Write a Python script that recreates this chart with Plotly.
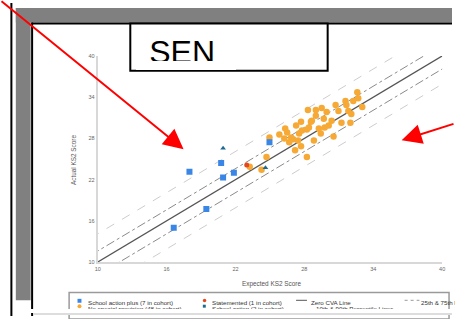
import plotly.graph_objects as go

# ---------------- data ----------------
tick_vals = [10, 16, 22, 28, 34, 40]

sap_x = [17.99, 20.75, 20.92, 21.86, 24.96, 19.46, 16.62]
sap_y = [23.14, 24.43, 22.29, 23.00, 27.43, 17.71, 15.00]

sa_x = [20.92, 24.61]
sa_y = [26.57, 23.71]

st_x = [22.98]
st_y = [24.14]

nsp_x = [24.96, 24.70, 24.27, 23.24, 26.33, 26.50, 26.85, 26.68, 27.02, 27.19,
         27.28, 27.71, 27.79, 27.45, 27.71, 28.22, 28.31, 28.57, 28.22, 29.00,
         29.51, 29.26, 29.43, 29.77, 29.94, 29.00, 30.54, 30.97, 31.23, 31.58,
         31.66, 31.83, 32.01, 32.61, 32.69, 33.04, 32.09, 28.65, 30.37, 28.40,
         26.25, 25.82, 29.69, 30.72, 27.54, 28.83, 30.12, 32.26]
nsp_y = [28.14, 25.29, 23.43, 23.86, 29.43, 28.86, 28.14, 27.43, 27.86, 26.29,
         29.86, 30.43, 29.14, 27.71, 26.86, 25.29, 32.14, 30.43, 29.29, 32.14,
         32.43, 29.43, 28.71, 29.57, 31.86, 31.29, 28.29, 32.00, 30.29, 33.43,
         32.86, 32.00, 30.29, 34.71, 33.86, 32.57, 31.57, 30.57, 30.57, 29.57,
         28.00, 28.57, 30.86, 32.86, 28.71, 27.71, 29.86, 33.43]

line_x = [0, 50]
zero_offset = 0
p75_offset = 1.6
p25_offset = -1.9
p90_offset = 4.1
p10_offset = -4.1

legend_labels = ["School action plus (7 in cohort)", "No special provision (48 in cohort)",
                 "Statemented (1 in cohort)", "School action (2 in cohort)",
                 "Zero CVA Line", "10th & 90th Percentile Lines", "25th & 75th Percentile Lines"]

W, H = 455, 319
def px(x): return x / W
def py(y): return 1 - y / H

BLUE = "#3a86e6"
ORANGE = "#f6a935"
RED = "#e4461f"
TEAL = "#1c6b92"
FONT = "Liberation Sans, Arial"

fig = go.Figure()

def add_line(off, color, dash, width):
    fig.add_trace(go.Scatter(x=line_x, y=[v + off for v in line_x], mode="lines",
                             line=dict(color=color, dash=dash, width=width),
                             hoverinfo="skip", showlegend=False))

add_line(p90_offset, "#cccccc", "dash", 1)
add_line(p10_offset, "#cccccc", "dash", 1)
add_line(p75_offset, "#8a8a8a", "dashdot", 1)
add_line(p25_offset, "#8a8a8a", "dashdot", 1)
add_line(zero_offset, "#555555", "solid", 1.3)

fig.add_trace(go.Scatter(x=nsp_x, y=nsp_y, mode="markers",
                         marker=dict(symbol="circle", size=6.5, color=ORANGE), showlegend=False))
fig.add_trace(go.Scatter(x=sap_x, y=sap_y, mode="markers",
                         marker=dict(symbol="square", size=6, color=BLUE), showlegend=False))
fig.add_trace(go.Scatter(x=st_x, y=st_y, mode="markers",
                         marker=dict(symbol="circle", size=5, color=RED), showlegend=False))
fig.add_trace(go.Scatter(x=sa_x, y=sa_y, mode="markers",
                         marker=dict(symbol="triangle-up", size=5, color=TEAL), showlegend=False))

# "SEN" text in its own small subplot
fig.add_trace(go.Scatter(x=[181.5], y=[52.5], mode="text", text=["SEN"],
                         textposition="middle center", cliponaxis=True,
                         textfont=dict(family=FONT, size=32, color="#000000"),
                         xaxis="x2", yaxis="y2", hoverinfo="skip", showlegend=False))

axis_common = dict(showgrid=False, zeroline=False, showline=True, linecolor="#d8d8d8",
                   linewidth=2, ticks="", tickvals=tick_vals, range=[10, 40],
                   tickfont=dict(family=FONT, size=5.5, color="#666666"))

shapes = []
def rect(x0, y0, x1, y1, fill, line_color=None, lw=0):
    shapes.append(dict(type="rect", xref="paper", yref="paper", layer="below",
                       x0=px(x0), x1=px(x1), y0=py(y1), y1=py(y0),
                       fillcolor=fill, line=dict(color=line_color or fill, width=lw)))
def line(x0, y0, x1, y1, color, lw, dash="solid"):
    shapes.append(dict(type="line", xref="paper", yref="paper", layer="below",
                       x0=px(x0), x1=px(x1), y0=py(y0), y1=py(y1),
                       line=dict(color=color, width=lw, dash=dash)))

# slide frame
line(8.5, 0, 8.5, 319, "#000000", 2)
rect(13, 5, 455, 20, "#808080")
rect(13, 5, 28, 303, "#808080")
line(29.5, 20, 29.5, 319, "#000000", 2)
line(29, 21, 455, 21, "#000000", 2)
# SEN box
rect(129, 21, 329, 69, "#ffffff", "#000000", 2)
# legend box
rect(67, 295, 452, 322, "#ffffff", "#9a9a9a", 1.5)
line(30.5, 317, 455, 317, "#dddddd", 2)
# legend symbols
rect(75.5, 301.5, 79.5, 305.5, BLUE)
shapes.append(dict(type="circle", xref="paper", yref="paper", layer="below",
                   x0=px(75.5), x1=px(79.5), y0=py(311), y1=py(307),
                   fillcolor=ORANGE, line=dict(color=ORANGE, width=0)))
shapes.append(dict(type="circle", xref="paper", yref="paper", layer="below",
                   x0=px(202.5), x1=px(206), y0=py(305), y1=py(301.5),
                   fillcolor=RED, line=dict(color=RED, width=0)))
rect(202.5, 307.5, 205.5, 310.5, TEAL)
line(297, 303, 308, 303, "#555555", 1)
line(407, 303, 422, 303, "#999999", 1, "dot")

annotations = []
def txt(x, y, s, size=6.2, color="#333333", xanchor="left", angle=0):
    annotations.append(dict(x=px(x), y=py(y), xref="paper", yref="paper", text=s,
                            showarrow=False, xanchor=xanchor, yanchor="middle",
                            textangle=angle, borderpad=0,
                            font=dict(family=FONT, size=size, color=color)))

def cover(x0, y0, x1, y1):
    annotations.append(dict(x=px((x0 + x1) / 2), y=py((y0 + y1) / 2), xref="paper", yref="paper",
                            text=" ", showarrow=False, xanchor="center", yanchor="middle",
                            width=x1 - x0, height=y1 - y0, borderpad=0, borderwidth=0,
                            bgcolor="#ffffff", font=dict(size=1)))

txt(72, 160, "Actual KS2 Score", size=6.4, color="#555555", xanchor="center", angle=-90)
txt(272, 286, "Expected KS2 Score", size=6.4, color="#555555", xanchor="center")
txt(85, 305.5, legend_labels[0])
txt(85, 311.2, legend_labels[1])
txt(211, 305.5, legend_labels[2])
txt(211, 311.2, legend_labels[3])
txt(311, 305.5, legend_labels[4])
txt(316, 311.2, legend_labels[5])
txt(423, 305.5, legend_labels[6])

# clip the bottom of "SEN" and the second legend row
cover(135, 59, 235, 67.5)
cover(31, 312, 455, 316)

# red arrows
annotations.append(dict(x=px(183), y=py(149), xref="paper", yref="paper", text="",
                        showarrow=True, arrowhead=2, arrowsize=2, arrowwidth=2,
                        arrowcolor="#ff0000", ax=-185, ay=-163, standoff=0))
annotations.append(dict(x=px(404), y=py(140), xref="paper", yref="paper", text="",
                        showarrow=True, arrowhead=2, arrowsize=2, arrowwidth=2,
                        arrowcolor="#ff0000", ax=66, ay=-17, standoff=0))

fig.update_layout(
    width=W, height=H, margin=dict(l=0, r=0, t=0, b=0),
    paper_bgcolor="#ffffff", plot_bgcolor="rgba(0,0,0,0)",
    xaxis=dict(domain=[px(96), px(445)], anchor="y", **axis_common),
    yaxis=dict(domain=[py(264), py(54)], anchor="x", **axis_common),
    xaxis2=dict(domain=[px(129), px(329)], range=[129, 329], visible=False, anchor="y2"),
    yaxis2=dict(domain=[py(67), py(22)], range=[67, 22], visible=False, anchor="x2"),
    shapes=shapes, annotations=annotations, showlegend=False,
)

fig.write_html("out.html", config={"displayModeBar": False},
               post_script="document.body.style.margin='0';document.body.style.padding='0';"
                           "document.body.style.overflow='hidden';")
